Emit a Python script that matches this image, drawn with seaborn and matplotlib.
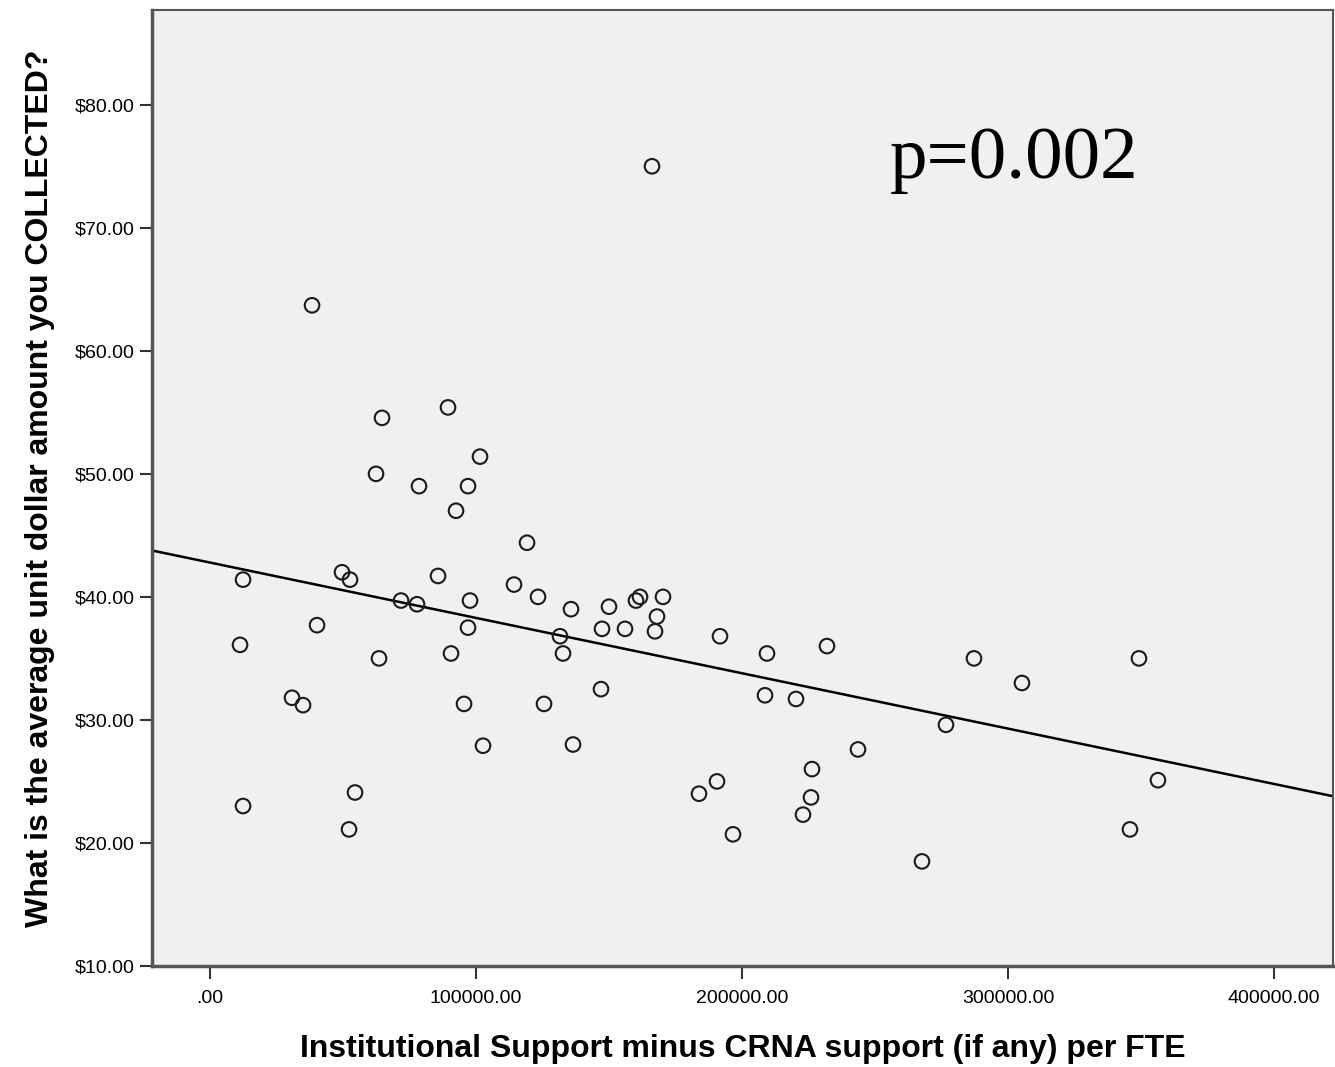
import numpy as np
import pandas as pd
import matplotlib
matplotlib.use('Agg')
import matplotlib.pyplot as plt
import seaborn as sns
from matplotlib.ticker import FuncFormatter

# values
support = [166165, 38346, 89474, 64662, 101504, 62406, 78571, 96992, 92481, 119173,
           12406, 49624, 52632, 85714, 114286, 71805, 77820, 97744, 123308, 135714,
           150000, 160150, 161654, 170301, 168045, 40226, 96992, 147368, 156015, 167293,
           131579, 191729, 11278, 90602, 132707, 209398, 231955, 63534, 287218, 349248,
           305263, 146992, 208647, 220301, 30827, 34962, 95489, 125564, 276692, 102632,
           136466, 243609, 226316, 356391, 190602, 183835, 54511, 225940, 12406, 222932,
           52256, 345865, 196617, 267669]
collected = [75.0, 63.7, 55.4, 54.55, 51.4, 50.0, 49.0, 49.0, 47.0, 44.4,
             41.4, 42.0, 41.4, 41.7, 41.0, 39.7, 39.4, 39.7, 40.0, 39.0,
             39.2, 39.7, 40.0, 40.0, 38.4, 37.7, 37.5, 37.4, 37.4, 37.2,
             36.8, 36.8, 36.1, 35.4, 35.4, 35.4, 36.0, 35.0, 35.0, 35.0,
             33.0, 32.5, 32.0, 31.7, 31.8, 31.2, 31.3, 31.3, 29.6, 27.9,
             28.0, 27.6, 26.0, 25.1, 25.0, 24.0, 24.1, 23.7, 23.0, 22.3,
             21.1, 21.1, 20.7, 18.5]

x_ticks = [0, 100000, 200000, 300000, 400000]
y_ticks = [10, 20, 30, 40, 50, 60, 70, 80]
p_text = 'p=0.002'

df = pd.DataFrame({'support': support, 'collected': collected})

sns.set_style('white')
plt.rcParams['font.family'] = ['Liberation Sans', 'DejaVu Sans']
plt.rcParams['text.color'] = 'black'
plt.rcParams['axes.labelcolor'] = 'black'
plt.rcParams['xtick.color'] = 'black'
plt.rcParams['ytick.color'] = 'black'

fig = plt.figure(figsize=(13.35, 10.67), dpi=100)
ax = fig.add_axes([0.1139, 0.0947, 0.8846, 0.8959])
ax.set_facecolor('#f0f0f0')
ax.set_xlim(-21800, 422200)
ax.set_ylim(10, 87.7)

sns.scatterplot(data=df, x='support', y='collected', ax=ax, marker='o', s=110,
                facecolors='none', edgecolor='#1a1a1a', linewidth=1.5, zorder=3)
sns.regplot(data=df, x='support', y='collected', ax=ax, scatter=False, ci=None,
            truncate=False, line_kws={'color': 'black', 'lw': 1.8, 'zorder': 2})
ax.set_xlim(-21800, 422200)
ax.set_ylim(10, 87.7)

ax.set_xticks(x_ticks)
ax.set_yticks(y_ticks)
ax.xaxis.set_major_formatter(FuncFormatter(lambda v, p: '.00' if v == 0 else f'{v:.2f}'))
ax.yaxis.set_major_formatter(FuncFormatter(lambda v, p: f'${v:.2f}'))
ax.tick_params(axis='both', direction='out', length=9, width=1.5, color='#333333',
               labelsize=14, left=True, bottom=True)
ax.tick_params(axis='x', pad=8)

for side in ['top', 'right']:
    ax.spines[side].set_color('#555555')
    ax.spines[side].set_linewidth(1.5)
for side in ['left', 'bottom']:
    ax.spines[side].set_color('#555555')
    ax.spines[side].set_linewidth(2.5)

ax.set_xlabel('Institutional Support minus CRNA support (if any) per FTE',
              fontsize=23, fontweight='bold', labelpad=20)
ax.set_ylabel('What is the average unit dollar amount you COLLECTED?',
              fontsize=23, fontweight='bold', labelpad=14)

ax.text(0.625, 0.824, p_text, transform=ax.transAxes, fontsize=54, color='black',
        family=['Liberation Serif', 'DejaVu Serif'], va='baseline', ha='left')

fig.savefig('out.png', dpi=100, facecolor='white')
